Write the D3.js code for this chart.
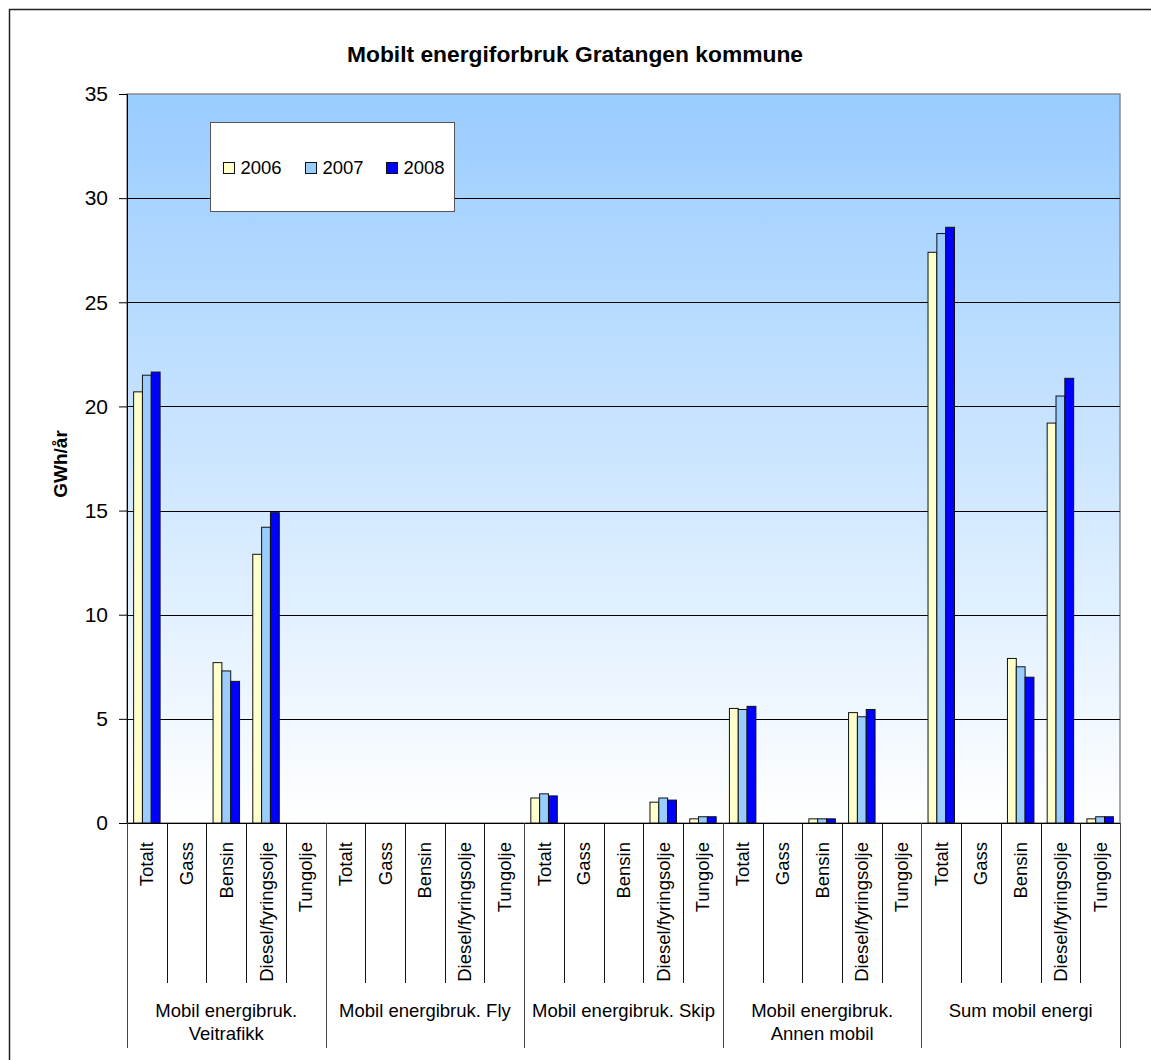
<!DOCTYPE html>
<html>
<head>
<meta charset="utf-8">
<script src="https://cdn.jsdelivr.net/npm/d3@7"></script>
<style>
  html, body { margin: 0; padding: 0; background: #fff; }
  svg { display: block; font-family: "Liberation Sans", Arial, sans-serif; }
</style>
</head>
<body>
<svg id="chart" width="1151" height="1060"></svg>
<script>
// Mobile energy use in Gratangen municipality, GWh per year
const groups = [
  ["Mobil energibruk.", "Veitrafikk"],
  ["Mobil energibruk. Fly"],
  ["Mobil energibruk. Skip"],
  ["Mobil energibruk.", "Annen mobil"],
  ["Sum mobil energi"]
];
const fuels = ["Totalt", "Gass", "Bensin", "Diesel/fyringsolje", "Tungolje"];
const years = ["2006", "2007", "2008"];
const colors = ["#FFFFCC", "#99CCFF", "#0000FF"];
const yTicks = [0, 5, 10, 15, 20, 25, 30, 35];

// One value per fuel, five fuels per group
const v2006 = [20.7, 0, 7.7, 12.9, 0,   0, 0, 0, 0, 0,   1.2, 0, 0, 1.0, 0.2,   5.5, 0, 0.2, 5.3, 0,    27.4, 0, 7.9, 19.2, 0.2];
const v2007 = [21.5, 0, 7.3, 14.2, 0,   0, 0, 0, 0, 0,   1.4, 0, 0, 1.2, 0.3,   5.45, 0, 0.2, 5.1, 0,   28.3, 0, 7.5, 20.5, 0.3];
const v2008 = [21.65, 0, 6.8, 14.9, 0,  0, 0, 0, 0, 0,   1.3, 0, 0, 1.1, 0.3,   5.6, 0, 0.2, 5.45, 0,   28.6, 0, 7.0, 21.35, 0.3];
const series = [v2006, v2007, v2008];

const svg = d3.select("#chart");
const plot = { left: 127, right: 1120, top: 94, bottom: 823 };

// Category index list: group g, fuel f -> index g*5+f
const cats = d3.range(groups.length * fuels.length);

const x0 = d3.scaleBand().domain(cats).range([plot.left, plot.right]).padding(0);
const x1 = d3.scaleBand().domain(years).range([0, x0.bandwidth()]).paddingInner(0).paddingOuter(0.75);
const y = d3.scaleLinear().domain([0, 35]).range([plot.bottom, plot.top]);

// Outer chart frame
svg.append("path")
  .attr("d", "M9.5,1060 V9.5 H1151")
  .attr("fill", "none").attr("stroke", "#222").attr("stroke-width", 1.5);

// Title
svg.append("text")
  .attr("x", 575).attr("y", 62)
  .attr("text-anchor", "middle")
  .attr("font-weight", "bold").attr("font-size", 22.8)
  .text("Mobilt energiforbruk Gratangen kommune");

// Plot background gradient
const defs = svg.append("defs");
const grad = defs.append("linearGradient").attr("id", "bg").attr("x1", 0).attr("y1", 0).attr("x2", 0).attr("y2", 1);
grad.append("stop").attr("offset", "0%").attr("stop-color", "#99CCFF");
grad.append("stop").attr("offset", "100%").attr("stop-color", "#FFFFFF");

svg.append("rect")
  .attr("x", plot.left).attr("y", plot.top)
  .attr("width", plot.right - plot.left).attr("height", plot.bottom - plot.top)
  .attr("fill", "url(#bg)")
  .attr("stroke", "#8a8a8a").attr("stroke-width", 1.5);

// Horizontal gridlines
svg.append("g").selectAll("line")
  .data(yTicks.filter(d => d > 0 && d < 35))
  .join("line")
  .attr("x1", plot.left).attr("x2", plot.right)
  .attr("y1", d => Math.round(y(d)) + 0.5).attr("y2", d => Math.round(y(d)) + 0.5)
  .attr("stroke", "#000").attr("stroke-width", 1);

// Bars
const barData = [];
cats.forEach(i => years.forEach((yr, s) => {
  const v = series[s][i];
  if (v > 0) barData.push({ i, yr, s, v });
}));
svg.append("g").selectAll("rect")
  .data(barData)
  .join("rect")
  .attr("x", d => x0(d.i) + x1(d.yr))
  .attr("y", d => y(d.v))
  .attr("width", x1.bandwidth())
  .attr("height", d => y(0) - y(d.v))
  .attr("fill", d => colors[d.s])
  .attr("stroke", "#111").attr("stroke-width", 1);

// Y axis
const yAxis = svg.append("g")
  .attr("transform", `translate(${plot.left},0)`)
  .call(d3.axisLeft(y).tickValues(yTicks).tickSize(8).tickPadding(11).tickFormat(d3.format("d")));
yAxis.select(".domain").attr("stroke", "#000");
yAxis.selectAll(".tick line").attr("stroke", "#000");
yAxis.selectAll(".tick text").attr("font-size", 21).attr("fill", "#000")
  .attr("font-family", "Liberation Sans, Arial, sans-serif");

// Y axis title
svg.append("text")
  .attr("transform", "translate(67,464) rotate(-90)")
  .attr("text-anchor", "middle")
  .attr("font-weight", "bold").attr("font-size", 19)
  .text("GWh/år");

// X axis baseline
svg.append("line")
  .attr("x1", plot.left).attr("x2", plot.right)
  .attr("y1", plot.bottom + 0.5).attr("y2", plot.bottom + 0.5)
  .attr("stroke", "#000");

// Category and group dividers
const bounds = d3.range(cats.length + 1);
const bx = k => k < cats.length ? x0(k) : x0(cats.length - 1) + x0.bandwidth();
svg.append("g").selectAll("line")
  .data(bounds)
  .join("line")
  .attr("x1", k => Math.round(bx(k)) + 0.5).attr("x2", k => Math.round(bx(k)) + 0.5)
  .attr("y1", plot.bottom)
  .attr("y2", k => k % fuels.length === 0 ? 1048 : 983)
  .attr("stroke", k => k % fuels.length === 0 ? "#444" : "#111")
  .attr("stroke-width", 1);

// Rotated fuel labels
svg.append("g").selectAll("text")
  .data(cats)
  .join("text")
  .attr("transform", i => `translate(${x0(i) + x0.bandwidth() / 2},842) rotate(-90)`)
  .attr("text-anchor", "end")
  .attr("dy", "0.35em")
  .attr("font-size", 18.5)
  .text(i => fuels[i % fuels.length]);

// Group labels
const gl = svg.append("g").selectAll("text")
  .data(groups)
  .join("text")
  .attr("x", (g, k) => (bx(k * 5) + bx(k * 5 + 5)) / 2)
  .attr("y", 1017)
  .attr("text-anchor", "middle")
  .attr("font-size", 18.5);
gl.selectAll("tspan")
  .data(g => g)
  .join("tspan")
  .attr("x", function() { return this.parentNode.getAttribute("x"); })
  .attr("dy", (t, j) => j === 0 ? 0 : 23)
  .text(t => t);

// Legend
const lg = svg.append("g");
lg.append("rect")
  .attr("x", 210.5).attr("y", 122.5).attr("width", 244).attr("height", 89)
  .attr("fill", "#fff").attr("stroke", "#555").attr("stroke-width", 1);
const itemX = [223.5, 305.5, 386.5];
years.forEach((yr, s) => {
  lg.append("rect")
    .attr("x", itemX[s]).attr("y", 162.5).attr("width", 11).attr("height", 11)
    .attr("fill", colors[s]).attr("stroke", "#111").attr("stroke-width", 1);
  lg.append("text")
    .attr("x", itemX[s] + 17).attr("y", 174)
    .attr("font-size", 18.5)
    .text(yr);
});
</script>
</body>
</html>
